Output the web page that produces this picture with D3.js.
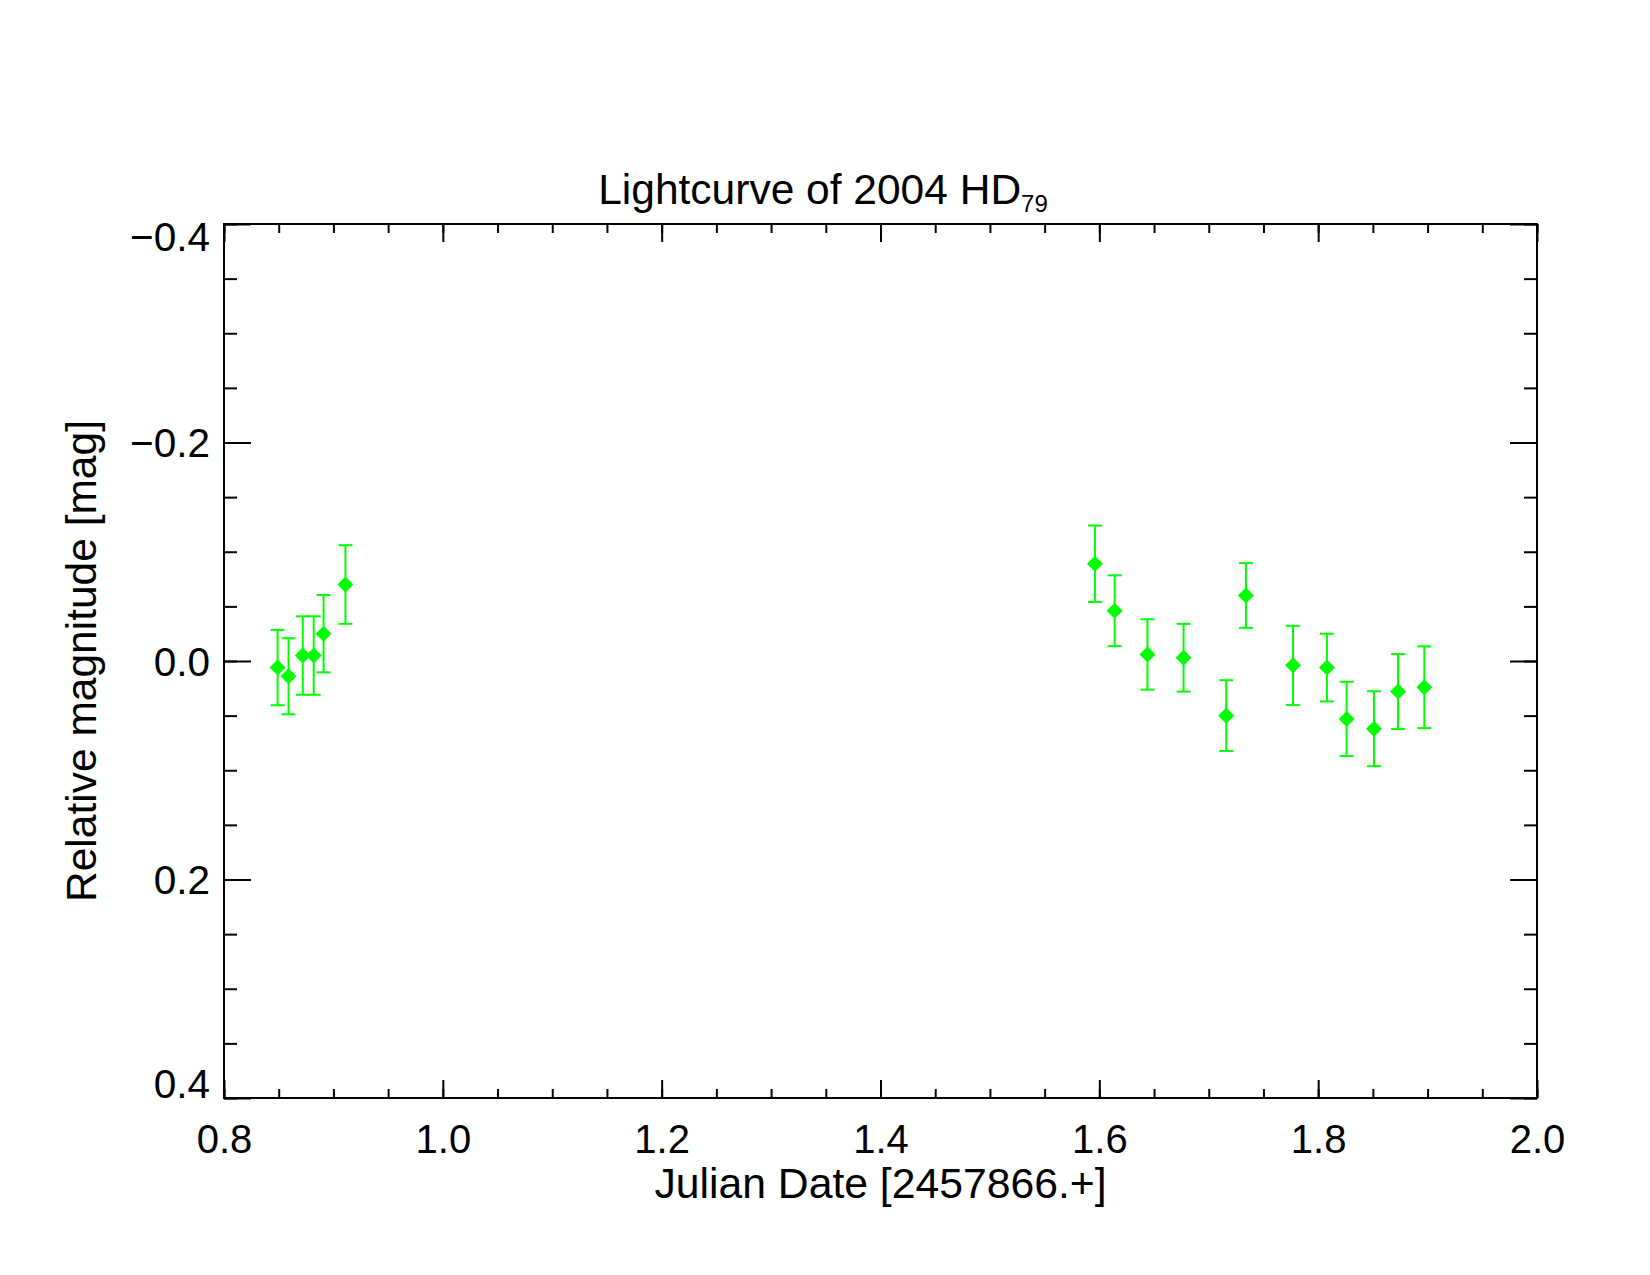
<!DOCTYPE html>
<html>
<head>
<meta charset="utf-8">
<script src="https://cdn.jsdelivr.net/npm/d3@7"></script>
<style>
  body { margin: 0; background: #fff; }
  svg { font-family: "Liberation Sans", Arial, Helvetica, sans-serif; }
</style>
</head>
<body>
<svg id="chart"></svg>
<script>
// Julian date offsets (JD - 2457866)
let jd = [0.849, 0.859, 0.872, 0.882, 0.891, 0.911,
          1.596, 1.614, 1.644, 1.677, 1.716, 1.734, 1.777, 1.808, 1.826, 1.851, 1.873, 1.897];
// relative magnitude
let mag = [0.006, 0.014, -0.005, -0.005, -0.025, -0.070,
           -0.089, -0.046, -0.006, -0.003, 0.050, -0.060, 0.004, 0.006, 0.053, 0.062, 0.028, 0.024];
// 1-sigma error
let err = [0.0345, 0.0348, 0.0359, 0.0359, 0.0354, 0.0360,
           0.0350, 0.0324, 0.0322, 0.0310, 0.0324, 0.0296, 0.0362, 0.0310, 0.0340, 0.0343, 0.0343, 0.0374];

let xMajor = [0.8, 1.0, 1.2, 1.4, 1.6, 1.8, 2.0];
let xMinor = d3.range(0.8, 2.0001, 0.05);
let yMajor = [-0.4, -0.2, 0.0, 0.2, 0.4];
let yMinor = d3.range(-0.4, 0.4001, 0.05);

let width = 1650;
let height = 1275;
let plotLeft = 224, plotRight = 1537, plotTop = 224, plotBottom = 1098;
let green = "#00ff00";

let svg = d3.select("#chart").attr("width", width).attr("height", height);

let xScale = d3.scaleLinear().domain([0.8, 2.0]).range([plotLeft, plotRight]);
let yScale = d3.scaleLinear().domain([-0.4, 0.4]).range([plotTop, plotBottom]);

// frame
svg.append("rect")
   .attr("x", plotLeft).attr("y", plotTop)
   .attr("width", plotRight - plotLeft).attr("height", plotBottom - plotTop)
   .attr("fill", "none").attr("stroke", "#000").attr("stroke-width", 2);

const styleAxis = (g) => {
  g.select(".domain").remove();
  g.selectAll("line").attr("stroke", "#000").attr("stroke-width", 2);
};

// minor ticks
svg.append("g").attr("transform", `translate(0,${plotBottom})`)
   .call(d3.axisBottom(xScale).tickValues(xMinor).tickSize(-9).tickFormat(""))
   .call(styleAxis);
svg.append("g").attr("transform", `translate(0,${plotTop})`)
   .call(d3.axisTop(xScale).tickValues(xMinor).tickSize(-9).tickFormat(""))
   .call(styleAxis);
svg.append("g").attr("transform", `translate(${plotLeft},0)`)
   .call(d3.axisLeft(yScale).tickValues(yMinor).tickSize(-13).tickFormat(""))
   .call(styleAxis);
svg.append("g").attr("transform", `translate(${plotRight},0)`)
   .call(d3.axisRight(yScale).tickValues(yMinor).tickSize(-13).tickFormat(""))
   .call(styleAxis);

// major ticks with labels
let xAxis = svg.append("g").attr("transform", `translate(0,${plotBottom})`)
   .call(d3.axisBottom(xScale).tickValues(xMajor).tickSize(-18).tickFormat(d3.format(".1f")))
   .call(styleAxis);
xAxis.selectAll("text")
     .attr("y", 55).attr("dy", 0)
     .attr("font-size", 40).attr("fill", "#000");

svg.append("g").attr("transform", `translate(0,${plotTop})`)
   .call(d3.axisTop(xScale).tickValues(xMajor).tickSize(-18).tickFormat(""))
   .call(styleAxis);

let yAxis = svg.append("g").attr("transform", `translate(${plotLeft},0)`)
   .call(d3.axisLeft(yScale).tickValues(yMajor).tickSize(-27).tickFormat(d3.format(".1f")))
   .call(styleAxis);
yAxis.selectAll("text")
     .attr("x", -14).attr("dy", 14)
     .attr("font-size", 40.5).attr("fill", "#000");
// end labels are pulled inside the axis range
yAxis.selectAll(".tick").filter(d => d === -0.4).select("text").attr("dy", 26);
yAxis.selectAll(".tick").filter(d => d === 0.4).select("text").attr("dy", -1);

svg.append("g").attr("transform", `translate(${plotRight},0)`)
   .call(d3.axisRight(yScale).tickValues(yMajor).tickSize(-27).tickFormat(""))
   .call(styleAxis);

// title
let title = svg.append("text")
   .attr("x", 823).attr("y", 204)
   .attr("text-anchor", "middle")
   .attr("font-size", 42.5);
title.append("tspan").text("Lightcurve of 2004 HD");
title.append("tspan").attr("font-size", 24).attr("dy", 8).text("79");

// axis titles
svg.append("text")
   .attr("x", (plotLeft + plotRight) / 2).attr("y", 1198)
   .attr("text-anchor", "middle").attr("font-size", 42.7)
   .text("Julian Date [2457866.+]");

svg.append("text")
   .attr("transform", "translate(96,661) rotate(-90)")
   .attr("text-anchor", "middle").attr("font-size", 42.5)
   .text("Relative magnitude [mag]");

// data
let points = jd.map((d, i) => ({ x: d, y: mag[i], e: err[i] }));
let cap = 7;

let bars = svg.append("g").attr("stroke", green).attr("stroke-width", 2);
bars.selectAll(".stem").data(points).enter().append("line")
    .attr("x1", d => xScale(d.x)).attr("x2", d => xScale(d.x))
    .attr("y1", d => yScale(d.y - d.e)).attr("y2", d => yScale(d.y + d.e));
bars.selectAll(".capTop").data(points).enter().append("line")
    .attr("x1", d => xScale(d.x) - cap).attr("x2", d => xScale(d.x) + cap)
    .attr("y1", d => yScale(d.y - d.e)).attr("y2", d => yScale(d.y - d.e));
bars.selectAll(".capBot").data(points).enter().append("line")
    .attr("x1", d => xScale(d.x) - cap).attr("x2", d => xScale(d.x) + cap)
    .attr("y1", d => yScale(d.y + d.e)).attr("y2", d => yScale(d.y + d.e));

svg.append("g").selectAll("path").data(points).enter().append("path")
   .attr("d", d3.symbol(d3.symbolSquare, 128))
   .attr("transform", d => `translate(${xScale(d.x)},${yScale(d.y)}) rotate(45)`)
   .attr("fill", green);
</script>
</body>
</html>
